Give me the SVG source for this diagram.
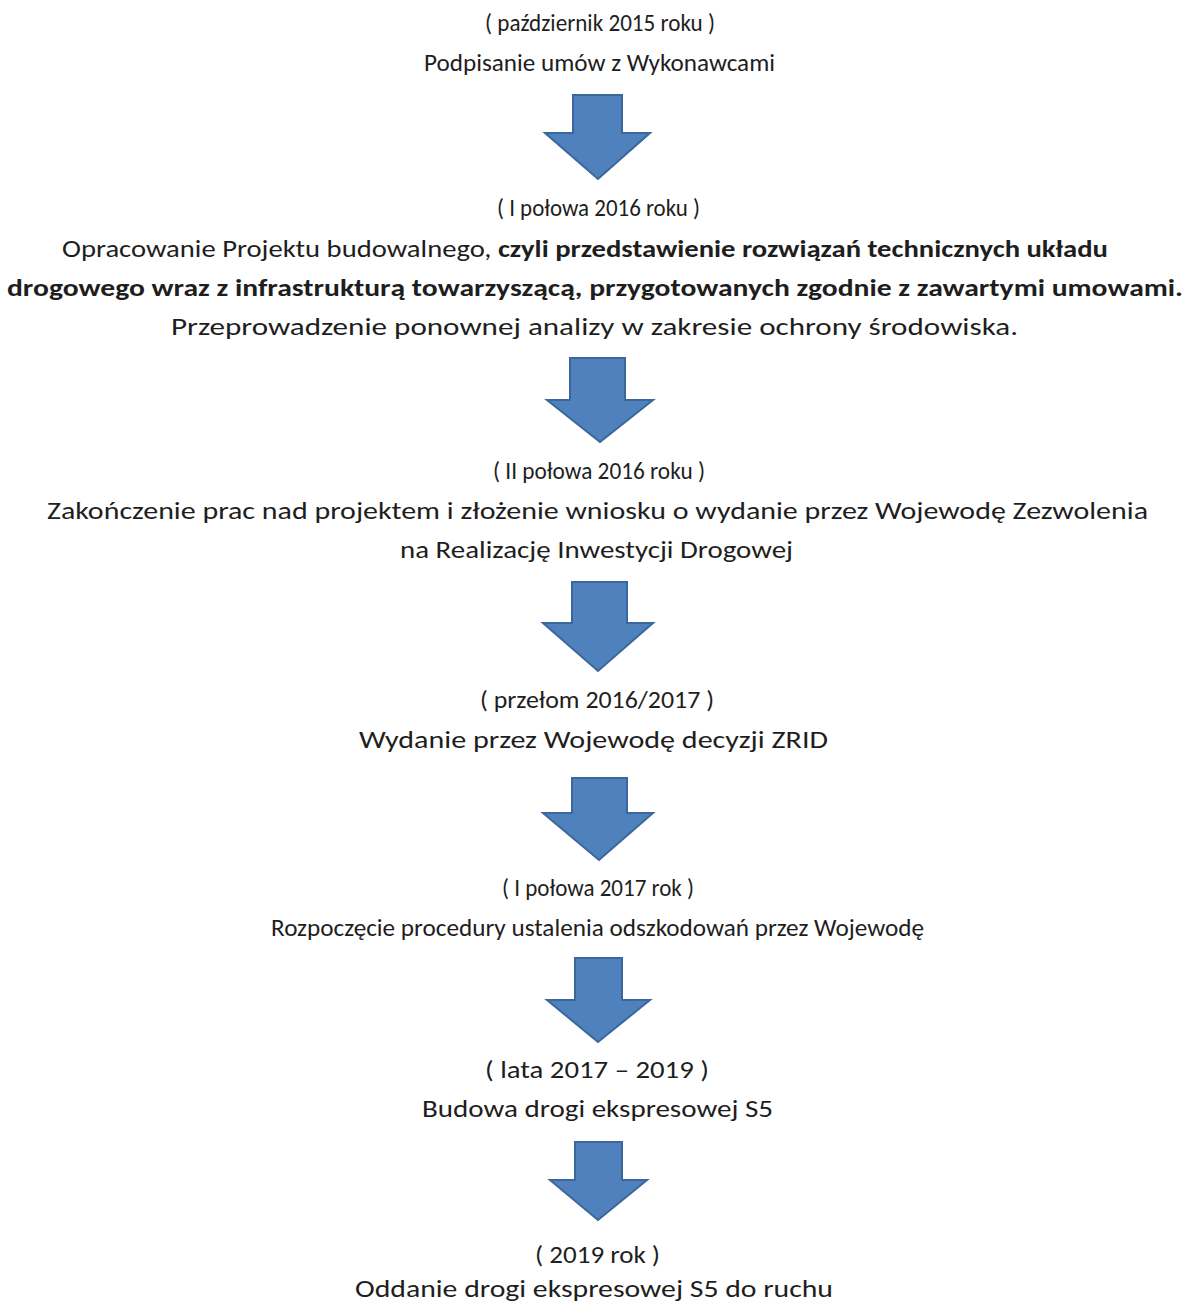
<svg xmlns="http://www.w3.org/2000/svg" width="1188" height="1303" viewBox="0 0 1188 1303">
<style>
text{font-family:Carlito,Lato,"Open Sans",sans-serif;font-size:24px;fill:#1e1e1e;text-anchor:middle}
.b{font-weight:bold}
.arrow{fill:#4F81BD;stroke:#3B679C;stroke-width:2;stroke-linejoin:miter}
</style>
<rect width="1188" height="1303" fill="#fff"/>
<g id="step1">
<text x="600" y="31" textLength="230" lengthAdjust="spacingAndGlyphs">( październik 2015 roku )</text>
<text x="599.5" y="71" textLength="351" lengthAdjust="spacingAndGlyphs">Podpisanie umów z Wykonawcami</text>
</g>
<g id="step2">
<text x="598.5" y="216" textLength="203" lengthAdjust="spacingAndGlyphs">( I połowa 2016 roku )</text>
<text x="585" y="257" textLength="1046" lengthAdjust="spacingAndGlyphs">Opracowanie Projektu budowalnego, <tspan class="b">czyli przedstawienie rozwiązań technicznych układu</tspan></text>
<text x="595" y="296" class="b" textLength="1176" lengthAdjust="spacingAndGlyphs">drogowego wraz z infrastrukturą towarzyszącą, przygotowanych zgodnie z zawartymi umowami.</text>
<text x="594.5" y="335" textLength="847" lengthAdjust="spacingAndGlyphs">Przeprowadzenie ponownej analizy w zakresie ochrony środowiska.</text>
</g>
<g id="step3">
<text x="599" y="479" textLength="212" lengthAdjust="spacingAndGlyphs">( II połowa 2016 roku )</text>
<text x="597.5" y="519" textLength="1101" lengthAdjust="spacingAndGlyphs">Zakończenie prac nad projektem i złożenie wniosku o wydanie przez Wojewodę Zezwolenia</text>
<text x="596.5" y="558" textLength="393" lengthAdjust="spacingAndGlyphs">na Realizację Inwestycji Drogowej</text>
</g>
<g id="step4">
<text x="597" y="708" textLength="234" lengthAdjust="spacingAndGlyphs">( przełom 2016/2017 )</text>
<text x="593.5" y="748" textLength="469" lengthAdjust="spacingAndGlyphs">Wydanie przez Wojewodę decyzji ZRID</text>
</g>
<g id="step5">
<text x="598" y="896" textLength="192" lengthAdjust="spacingAndGlyphs">( I połowa 2017 rok )</text>
<text x="597.5" y="936" textLength="653" lengthAdjust="spacingAndGlyphs">Rozpoczęcie procedury ustalenia odszkodowań przez Wojewodę</text>
</g>
<g id="step6">
<text x="597" y="1078" textLength="224" lengthAdjust="spacingAndGlyphs">( lata 2017 – 2019 )</text>
<text x="597.5" y="1117" textLength="351" lengthAdjust="spacingAndGlyphs">Budowa drogi ekspresowej S5</text>
</g>
<g id="step7">
<text x="597.5" y="1263" textLength="125" lengthAdjust="spacingAndGlyphs">( 2019 rok )</text>
<text x="594" y="1297" textLength="478" lengthAdjust="spacingAndGlyphs">Oddanie drogi ekspresowej S5 do ruchu</text>
</g>
<g id="connectors">
<path class="arrow" d="M573,95 H622 V133 H650 L598,179 L545,133 H573 Z"/>
<path class="arrow" d="M570,358 H625 V400 H653 L600,442 L547,400 H570 Z"/>
<path class="arrow" d="M572,582 H627 V623 H653 L598,671 L543,623 H572 Z"/>
<path class="arrow" d="M572,778 H627 V813 H653 L599,860 L543,813 H572 Z"/>
<path class="arrow" d="M575,958 H622 V1000 H650 L598,1042 L547,1000 H575 Z"/>
<path class="arrow" d="M575,1142 H622 V1180 H647 L598,1220 L550,1180 H575 Z"/>
</g>
</svg>
